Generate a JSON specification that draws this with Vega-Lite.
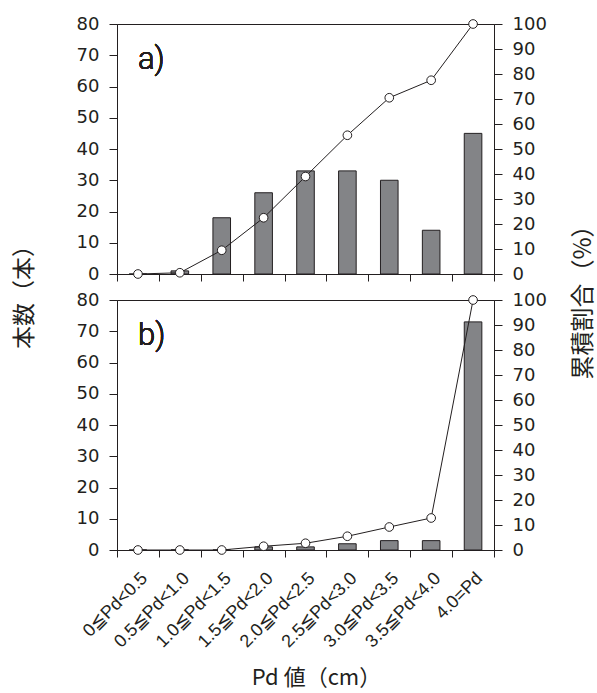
{
  "$schema": "https://vega.github.io/schema/vega-lite/v6.json",
  "padding": {"left": 12, "top": 14, "right": 0, "bottom": 0},
  "background": "white",
  "config": {
    "view": {"stroke": "#231f20", "strokeWidth": 1},
    "font": "Liberation Sans",
    "axis": {
      "domainColor": "#231f20", "tickColor": "#231f20", "labelColor": "#231f20", "titleColor": "#231f20",
      "grid": false, "labelFontSize": 18, "labelFont": "DejaVu Sans", "tickSize": 8, "labelPadding": 10,
      "labelOverlap": false, "labelFlush": false,
      "titleFont": "Noto Sans CJK JP", "titleFontSize": 23, "titleFontWeight": "normal"
    }
  },
  "datasets": {
    "a": [
      {"cat": "0≦Pd<0.5", "n": 0, "pct": 0},
      {"cat": "0.5≦Pd<1.0", "n": 1, "pct": 0.5},
      {"cat": "1.0≦Pd<1.5", "n": 18, "pct": 9.5},
      {"cat": "1.5≦Pd<2.0", "n": 26, "pct": 22.5},
      {"cat": "2.0≦Pd<2.5", "n": 33, "pct": 39},
      {"cat": "2.5≦Pd<3.0", "n": 33, "pct": 55.5},
      {"cat": "3.0≦Pd<3.5", "n": 30, "pct": 70.5},
      {"cat": "3.5≦Pd<4.0", "n": 14, "pct": 77.5},
      {"cat": "4.0=Pd", "n": 45, "pct": 100}
    ],
    "b": [
      {"cat": "0≦Pd<0.5", "n": 0, "pct": 0},
      {"cat": "0.5≦Pd<1.0", "n": 0, "pct": 0},
      {"cat": "1.0≦Pd<1.5", "n": 0, "pct": 0},
      {"cat": "1.5≦Pd<2.0", "n": 1, "pct": 1.5},
      {"cat": "2.0≦Pd<2.5", "n": 1, "pct": 2.7},
      {"cat": "2.5≦Pd<3.0", "n": 2, "pct": 5.5},
      {"cat": "3.0≦Pd<3.5", "n": 3, "pct": 9.2},
      {"cat": "3.5≦Pd<4.0", "n": 3, "pct": 12.8},
      {"cat": "4.0=Pd", "n": 73, "pct": 100}
    ]
  },
  "bounds": "flush",
  "spacing": 26,
  "vconcat": [
    {
      "width": 377, "height": 250,
      "data": {"name": "a"},
      "layer": [
        {
          "layer": [
            {
              "mark": {"type": "bar", "fill": "#838487", "stroke": "#231f20", "strokeWidth": 1, "width": {"band": 0.42}},
              "encoding": {
                "x": {"field": "cat", "type": "nominal", "sort": null, "scale": {"paddingInner": 0, "paddingOuter": 0},
                      "axis": {"labels": false, "title": null, "tickBand": "extent", "tickSize": 7}},
                "y": {"field": "n", "type": "quantitative", "scale": {"domain": [0, 80], "nice": false},
                      "axis": {"values": [0, 10, 20, 30, 40, 50, 60, 70, 80], "tickCount": 9, "title": "本数（本）",
                               "titleX": -93, "titleY": 267, "titleAngle": -90, "titleAlign": "center", "titleBaseline": "middle"}}
              }
            },
            {
              "mark": {"type": "text", "fontSize": 31, "fontWeight": 300, "align": "left", "baseline": "middle", "font": "Roboto", "color": "#231f20"},
              "encoding": {
                "x": {"datum": "0≦Pd<0.5", "type": "nominal"},
                "y": {"datum": 68.5, "type": "quantitative",
                      "axis": {"values": [0, 10, 20, 30, 40, 50, 60, 70, 80], "tickCount": 9, "title": "本数（本）",
                               "titleX": -93, "titleY": 267, "titleAngle": -90, "titleAlign": "center", "titleBaseline": "middle"}},
                "text": {"value": "a)"}
              }
            }
          ]
        },
        {
          "layer": [
            {
              "mark": {"type": "line", "color": "#231f20", "strokeWidth": 1},
              "encoding": {
                "x": {"field": "cat", "type": "nominal", "sort": null},
                "y": {"field": "pct", "type": "quantitative", "scale": {"domain": [0, 100], "nice": false},
                      "axis": {"orient": "right", "values": [0, 10, 20, 30, 40, 50, 60, 70, 80, 90, 100], "tickCount": 11, "title": "累積割合（%）",
                               "titleX": 89, "titleY": 272, "titleAngle": -90, "titleAlign": "center", "titleBaseline": "middle", "titleFontSize": 24}}
              }
            },
            {
              "mark": {"type": "point", "shape": "circle", "filled": true, "fill": "white", "stroke": "#231f20", "strokeWidth": 1, "size": 75, "opacity": 1},
              "encoding": {
                "x": {"field": "cat", "type": "nominal", "sort": null},
                "y": {"field": "pct", "type": "quantitative",
                      "axis": {"orient": "right", "values": [0, 10, 20, 30, 40, 50, 60, 70, 80, 90, 100], "tickCount": 11, "title": "累積割合（%）",
                               "titleX": 89, "titleY": 272, "titleAngle": -90, "titleAlign": "center", "titleBaseline": "middle", "titleFontSize": 24}}
              }
            }
          ]
        }
      ],
      "resolve": {"scale": {"y": "independent"}}
    },
    {
      "width": 377, "height": 250,
      "data": {"name": "b"},
      "layer": [
        {
          "layer": [
            {
              "mark": {"type": "bar", "fill": "#838487", "stroke": "#231f20", "strokeWidth": 1, "width": {"band": 0.42}},
              "encoding": {
                "x": {"field": "cat", "type": "nominal", "sort": null, "scale": {"paddingInner": 0, "paddingOuter": 0},
                      "axis": {"labelAngle": -45, "labelFont": "Liberation Sans", "labelFontSize": 18, "tickBand": "extent", "tickSize": 7,
                               "labelPadding": 12, "labelOffset": 0, "title": "Pd 値（cm）", "titlePadding": 17, "titleFontSize": 22, "titleX": 199}},
                "y": {"field": "n", "type": "quantitative", "scale": {"domain": [0, 80], "nice": false},
                      "axis": {"values": [0, 10, 20, 30, 40, 50, 60, 70, 80], "tickCount": 9, "title": null}}
              }
            },
            {
              "mark": {"type": "text", "fontSize": 31, "fontWeight": 300, "align": "left", "baseline": "middle", "font": "Roboto", "color": "#231f20"},
              "encoding": {
                "x": {"datum": "0≦Pd<0.5", "type": "nominal"},
                "y": {"datum": 68.5, "type": "quantitative",
                      "axis": {"values": [0, 10, 20, 30, 40, 50, 60, 70, 80], "tickCount": 9, "title": null}},
                "text": {"value": "b)"}
              }
            }
          ]
        },
        {
          "layer": [
            {
              "mark": {"type": "line", "color": "#231f20", "strokeWidth": 1},
              "encoding": {
                "x": {"field": "cat", "type": "nominal", "sort": null},
                "y": {"field": "pct", "type": "quantitative", "scale": {"domain": [0, 100], "nice": false},
                      "axis": {"orient": "right", "values": [0, 10, 20, 30, 40, 50, 60, 70, 80, 90, 100], "tickCount": 11, "title": null}}
              }
            },
            {
              "mark": {"type": "point", "shape": "circle", "filled": true, "fill": "white", "stroke": "#231f20", "strokeWidth": 1, "size": 75, "opacity": 1},
              "encoding": {
                "x": {"field": "cat", "type": "nominal", "sort": null},
                "y": {"field": "pct", "type": "quantitative",
                      "axis": {"orient": "right", "values": [0, 10, 20, 30, 40, 50, 60, 70, 80, 90, 100], "tickCount": 11, "title": null}}
              }
            }
          ]
        }
      ],
      "resolve": {"scale": {"y": "independent"}}
    }
  ]
}
